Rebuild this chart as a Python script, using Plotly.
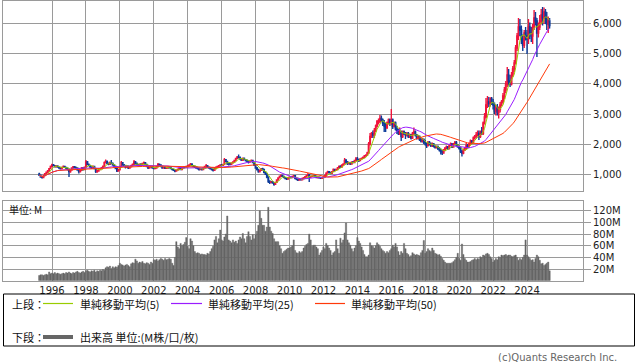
import pandas as pd
import plotly.graph_objects as go

W, H = 638, 362

# Monthly data, Apr 1995 .. May 2025
months = pd.date_range("1995-04-01", "2025-05-01", freq="MS")

opens = [
    1000, 960, 900, 880, 950, 1010, 1060, 1100, 1180,
    1250, 1300, 1280, 1240, 1270, 1230, 1200, 1180, 1220, 1250, 1220, 1190,
    1150, 1080, 1130, 1200, 1240, 1220, 1200, 1130, 1080, 1120, 1200, 1150,
    1230, 1400, 1320, 1280, 1230, 1200, 1250, 1180, 1080, 1100, 1150, 1170,
    1200, 1250, 1380, 1420, 1350, 1320, 1380, 1350, 1300, 1250, 1180, 1100,
    1150, 1250, 1380, 1300, 1280, 1220, 1260, 1200, 1250, 1280, 1320, 1400,
    1350, 1300, 1280, 1330, 1300, 1350, 1380, 1320, 1250, 1200, 1230, 1250,
    1200, 1180, 1200, 1250, 1320, 1300, 1250, 1200, 1220, 1190, 1200, 1230,
    1210, 1180, 1150, 1120, 1100, 1130, 1160, 1190, 1150, 1200, 1230, 1220,
    1250, 1270, 1300, 1330, 1280, 1250, 1230, 1200, 1180, 1150, 1170, 1150,
    1200, 1250, 1280, 1230, 1200, 1170, 1150, 1120, 1180, 1230, 1250, 1280,
    1300, 1290, 1320, 1480, 1420, 1350, 1340, 1330, 1370, 1400, 1450, 1520,
    1560, 1550, 1500, 1460, 1520, 1480, 1450, 1430, 1400, 1430, 1450, 1380,
    1300, 1200, 1150, 1080, 1120, 1180, 1150, 1050, 1000, 900, 760, 720,
    740, 700, 660, 720, 800, 870, 930, 950, 920, 880, 850, 830,
    870, 900, 880, 920, 940, 850, 820, 800, 820, 810, 850, 880,
    900, 950, 980, 900, 920, 930, 950, 930, 880, 890, 870, 860,
    880, 900, 950, 1030, 1080, 1050, 1020, 1080, 1150, 1120, 1150, 1200,
    1250, 1230, 1300, 1330, 1450, 1400, 1350, 1380, 1330, 1400, 1380, 1450,
    1500, 1480, 1450, 1500, 1520, 1550, 1600, 1620, 1700, 2000, 2250, 2350,
    2300, 2450, 2600, 2750, 2750, 2850, 2800, 2700, 2600, 2550, 2700, 2800,
    2700, 2800, 2600, 2700, 2500, 2450, 2350, 2400, 2250, 2400, 2350, 2300,
    2350, 2250, 2300, 2200, 2350, 2400, 2300, 2200, 2250, 2150, 2100, 2150,
    2050, 2000, 1950, 2050, 2000, 1950, 2000, 1920, 1880, 1900, 1850, 1800,
    1750, 1700, 1800, 1850, 1900, 1850, 1950, 2000, 1900, 2000, 2050, 1950,
    1900, 1850, 1750, 1700, 1800, 1850, 1950, 1900, 2000, 2100, 2050, 2200,
    2250, 2300, 2350, 2250, 2400, 2350, 2700, 2900, 3300, 3400, 3350, 3500,
    3400, 3300, 3100, 3200, 3050, 3150, 3300, 3400, 3600, 3800, 4000, 4300,
    4100, 4000, 4300, 4500, 4700, 5200, 5600, 5900, 5800, 5500, 5300, 5700,
    5600, 5500, 5900, 5700, 5600, 5900, 6200, 6100, 5700, 5900, 6100, 6300,
    6200, 6400, 6200, 6000, 6100,
]
highs = [
    1040, 980, 930, 970, 1030, 1080, 1130, 1200, 1280,
    1340, 1330, 1300, 1290, 1290, 1250, 1220, 1240, 1280, 1270, 1240, 1210,
    1170, 1150, 1220, 1270, 1260, 1240, 1210, 1150, 1140, 1230, 1220, 1250,
    1470, 1430, 1350, 1310, 1260, 1280, 1270, 1190, 1130, 1170, 1200, 1230,
    1280, 1420, 1480, 1450, 1380, 1420, 1470, 1380, 1320, 1270, 1200, 1170,
    1270, 1430, 1400, 1330, 1300, 1290, 1280, 1270, 1310, 1350, 1470, 1430,
    1380, 1330, 1350, 1360, 1370, 1420, 1400, 1340, 1270, 1250, 1270, 1260,
    1220, 1220, 1270, 1370, 1350, 1320, 1260, 1240, 1240, 1220, 1250, 1250,
    1230, 1200, 1170, 1140, 1150, 1180, 1220, 1210, 1220, 1260, 1250, 1270,
    1300, 1320, 1370, 1360, 1300, 1270, 1250, 1220, 1200, 1190, 1190, 1220,
    1270, 1330, 1300, 1250, 1220, 1190, 1170, 1200, 1250, 1270, 1300, 1320,
    1330, 1340, 1530, 1500, 1440, 1380, 1360, 1390, 1420, 1470, 1540, 1600,
    1650, 1580, 1520, 1550, 1550, 1500, 1480, 1450, 1450, 1480, 1470, 1400,
    1320, 1230, 1170, 1140, 1200, 1210, 1170, 1080, 1020, 920, 790, 770,
    760, 720, 740, 820, 890, 950, 980, 970, 940, 900, 870, 890,
    920, 920, 940, 970, 950, 870, 840, 840, 840, 870, 900, 930,
    970, 1030, 1000, 940, 950, 970, 970, 940, 910, 910, 890, 900,
    920, 970, 1060, 1110, 1100, 1070, 1100, 1180, 1170, 1170, 1230, 1280,
    1290, 1320, 1360, 1530, 1500, 1430, 1410, 1400, 1420, 1430, 1470, 1570,
    1570, 1510, 1520, 1550, 1580, 1630, 1660, 1740, 2070, 2370, 2400, 2450,
    2530, 2650, 2800, 2850, 2970, 2950, 2850, 2800, 2700, 2750, 2850, 2850,
    3170, 2850, 2750, 2750, 2600, 2500, 2550, 2450, 2450, 2450, 2400, 2400,
    2400, 2350, 2330, 2400, 2550, 2450, 2330, 2300, 2280, 2200, 2200, 2180,
    2130, 2050, 2100, 2100, 2050, 2050, 2030, 1960, 1950, 1950, 1900, 1850,
    1800, 1830, 1900, 1950, 1930, 1980, 2050, 2030, 2030, 2100, 2100, 2000,
    1950, 1900, 1800, 1850, 1900, 2030, 2000, 2050, 2150, 2130, 2250, 2300,
    2400, 2450, 2450, 2450, 2570, 2750, 3030, 3530, 3600, 3570, 3560, 3570,
    3500, 3380, 3300, 3330, 3250, 3400, 3470, 3700, 3900, 4100, 4570, 4500,
    4300, 4400, 4600, 4800, 5300, 5700, 6200, 6170, 5950, 5650, 5800, 5900,
    5800, 6170, 6050, 5900, 6000, 6470, 6400, 6200, 6050, 6300, 6500, 6570,
    6550, 6500, 6400, 6250, 6200,
]
lows = [
    940, 880, 850, 870, 930, 990, 1040, 1080, 1160,
    1230, 1260, 1220, 1220, 1210, 1180, 1150, 1160, 1200, 1200, 1170, 1120,
    900, 1040, 1110, 1180, 1200, 1170, 1110, 1020, 1050, 1100, 1120, 1130,
    1210, 1300, 1260, 1210, 1170, 1180, 1160, 1030, 1040, 1080, 1130, 1150,
    1180, 1230, 1360, 1330, 1290, 1300, 1330, 1280, 1230, 1160, 1070, 1080,
    1120, 1230, 1280, 1250, 1180, 1200, 1170, 1180, 1220, 1260, 1300, 1320,
    1280, 1250, 1260, 1280, 1280, 1330, 1300, 1230, 1170, 1180, 1210, 1180,
    1160, 1160, 1190, 1240, 1280, 1230, 1180, 1180, 1170, 1170, 1190, 1190,
    1160, 1130, 1100, 1060, 1080, 1110, 1140, 1130, 1130, 1180, 1200, 1200,
    1220, 1250, 1280, 1260, 1230, 1200, 1180, 1150, 1120, 1130, 1120, 1130,
    1180, 1230, 1210, 1180, 1150, 1120, 1080, 1100, 1160, 1210, 1230, 1260,
    1260, 1270, 1300, 1390, 1300, 1280, 1290, 1300, 1350, 1380, 1430, 1500,
    1520, 1480, 1430, 1440, 1460, 1420, 1400, 1350, 1380, 1410, 1360, 1270,
    1180, 1120, 1040, 1050, 1100, 1120, 1030, 970, 860, 700, 670, 690,
    680, 610, 640, 700, 780, 850, 900, 900, 860, 830, 800, 810,
    850, 860, 860, 900, 830, 790, 770, 780, 790, 790, 840, 860,
    890, 930, 730, 870, 900, 910, 910, 860, 850, 850, 840, 840,
    860, 880, 940, 1010, 1030, 990, 1000, 1060, 1100, 1100, 1130, 1180,
    1200, 1210, 1280, 1310, 1350, 1300, 1320, 1300, 1310, 1360, 1360, 1430,
    1450, 1400, 1430, 1480, 1500, 1530, 1580, 1600, 1680, 1950, 2200, 2200,
    2200, 2400, 2550, 2650, 2700, 2750, 2600, 2400, 2400, 2500, 2650, 2600,
    2630, 2500, 2550, 2450, 2330, 2300, 2300, 2100, 2200, 2300, 2170, 2250,
    2200, 2200, 2150, 2170, 2300, 2250, 2150, 2150, 2100, 2050, 2050, 2000,
    1950, 1870, 1920, 1950, 1900, 1900, 1880, 1850, 1850, 1800, 1750, 1650,
    1630, 1680, 1760, 1830, 1800, 1820, 1930, 1870, 1880, 1980, 1920, 1880,
    1820, 1700, 1580, 1660, 1770, 1820, 1850, 1880, 1980, 2000, 2030, 2150,
    2200, 2250, 2130, 2200, 2300, 2300, 2650, 2850, 3200, 3230, 3250, 3300,
    3150, 3000, 2950, 2950, 2850, 3050, 3250, 3350, 3500, 3700, 3900, 3950,
    3900, 3950, 4230, 4400, 4650, 5100, 5470, 5600, 5330, 5100, 5200, 5450,
    5000, 5330, 5500, 5400, 5330, 5800, 5950, 4900, 5550, 5800, 5980, 5950,
    6000, 6000, 5800, 5700, 5850,
]
closes = [
    960, 900, 880, 950, 1010, 1060, 1100, 1180, 1250,
    1300, 1280, 1240, 1270, 1230, 1200, 1180, 1220, 1250, 1220, 1190, 1150,
    1080, 1130, 1200, 1240, 1220, 1200, 1130, 1080, 1120, 1200, 1150, 1230,
    1400, 1320, 1280, 1230, 1200, 1250, 1180, 1080, 1100, 1150, 1170, 1200,
    1250, 1380, 1420, 1350, 1320, 1380, 1350, 1300, 1250, 1180, 1100, 1150,
    1250, 1380, 1300, 1280, 1220, 1260, 1200, 1250, 1280, 1320, 1400, 1350,
    1300, 1280, 1330, 1300, 1350, 1380, 1320, 1250, 1200, 1230, 1250, 1200,
    1180, 1200, 1250, 1320, 1300, 1250, 1200, 1220, 1190, 1200, 1230, 1210,
    1180, 1150, 1120, 1100, 1130, 1160, 1190, 1150, 1200, 1230, 1220, 1250,
    1270, 1300, 1330, 1280, 1250, 1230, 1200, 1180, 1150, 1170, 1150, 1200,
    1250, 1280, 1230, 1200, 1170, 1150, 1120, 1180, 1230, 1250, 1280, 1300,
    1290, 1320, 1480, 1420, 1350, 1340, 1330, 1370, 1400, 1450, 1520, 1560,
    1550, 1500, 1460, 1520, 1480, 1450, 1430, 1400, 1430, 1450, 1380, 1300,
    1200, 1150, 1080, 1120, 1180, 1150, 1050, 1000, 900, 760, 720, 740,
    700, 660, 720, 800, 870, 930, 950, 920, 880, 850, 830, 870,
    900, 880, 920, 940, 850, 820, 800, 820, 810, 850, 880, 900,
    950, 980, 900, 920, 930, 950, 930, 880, 890, 870, 860, 880,
    900, 950, 1030, 1080, 1050, 1020, 1080, 1150, 1120, 1150, 1200, 1250,
    1230, 1300, 1330, 1450, 1400, 1350, 1380, 1330, 1400, 1380, 1450, 1500,
    1480, 1450, 1500, 1520, 1550, 1600, 1620, 1700, 2000, 2250, 2350, 2300,
    2450, 2600, 2750, 2750, 2850, 2800, 2700, 2600, 2550, 2700, 2800, 2700,
    2800, 2600, 2700, 2500, 2450, 2350, 2400, 2250, 2400, 2350, 2300, 2350,
    2250, 2300, 2200, 2350, 2400, 2300, 2200, 2250, 2150, 2100, 2150, 2050,
    2000, 1950, 2050, 2000, 1950, 2000, 1920, 1880, 1900, 1850, 1800, 1750,
    1700, 1800, 1850, 1900, 1850, 1950, 2000, 1900, 2000, 2050, 1950, 1900,
    1850, 1750, 1700, 1800, 1850, 1950, 1900, 2000, 2100, 2050, 2200, 2250,
    2300, 2350, 2250, 2400, 2350, 2700, 2900, 3300, 3400, 3350, 3500, 3400,
    3300, 3100, 3200, 3050, 3150, 3300, 3400, 3600, 3800, 4000, 4300, 4100,
    4000, 4300, 4500, 4700, 5200, 5600, 5900, 5800, 5500, 5300, 5700, 5600,
    5500, 5900, 5700, 5600, 5900, 6200, 6100, 5700, 5900, 6100, 6300, 6200,
    6400, 6200, 6000, 6100, 5950,
]
volume_m = [
    9, 10, 10, 9, 10, 11, 10, 15, 12,
    13, 12, 14, 12, 13, 12, 11, 12, 13, 12, 14, 13,
    15, 13, 12, 14, 13, 15, 16, 14, 13, 15, 16, 14,
    17, 18, 16, 15, 17, 16, 18, 15, 17, 16, 18, 17,
    19, 18, 22, 24, 23, 25, 21, 24, 22, 24, 23, 26,
    30, 28, 27, 25, 27, 28, 26, 24, 29, 31, 30, 37,
    34, 30, 32, 31, 33, 30, 29, 31, 30, 28, 32, 30,
    36, 35, 37, 34, 36, 38, 37, 35, 38, 36, 37, 38,
    37, 30, 26, 40, 67, 58, 55, 64, 60, 62, 66, 74,
    59, 55, 72, 68, 60, 50, 47, 48, 47, 45, 46, 45,
    45, 44, 47, 46, 50, 55, 59, 70, 76, 65, 72, 87,
    70, 68, 75, 80, 111, 70, 68, 65, 70, 66, 68, 64,
    70, 75, 72, 81, 72, 65, 76, 84, 76, 70, 79, 72,
    79, 85, 95, 120, 107, 95, 95, 85, 92, 126, 92, 85,
    81, 72, 67, 67, 67, 60, 55, 47, 50, 52, 54, 56,
    56, 58, 60, 70, 52, 48, 47, 50, 48, 50, 56, 59,
    62, 64, 80, 70, 59, 61, 61, 58, 55, 44, 48, 52,
    58, 55, 64, 60, 56, 52, 44, 48, 50, 70, 55, 47,
    73, 65, 70, 82, 99, 70, 65, 61, 55, 50, 56, 60,
    74, 68, 64, 58, 52, 45, 41, 41, 44, 65, 60, 59,
    56, 60, 65, 62, 59, 55, 52, 50, 47, 50, 48, 52,
    55, 61, 58, 64, 58, 50, 44, 50, 47, 64, 55, 47,
    45, 41, 43, 48, 46, 44, 45, 44, 43, 48, 52, 69,
    47, 50, 55, 52, 50, 56, 52, 47, 46, 44, 45, 42,
    38, 35, 32, 30, 30, 30, 30, 31, 33, 36, 40, 47,
    38, 35, 63, 45, 38, 35, 32, 32, 33, 35, 36, 38,
    36, 38, 37, 41, 40, 44, 43, 46, 47, 45, 41, 38,
    32, 35, 38, 36, 41, 40, 44, 43, 44, 45, 43, 44,
    44, 42, 41, 43, 44, 40, 35, 38, 36, 40, 44, 70,
    44, 41, 38, 35, 36, 32, 38, 44, 41, 35, 29, 30,
    26, 28, 30, 32, 17,
]

price_ticks = [1000, 2000, 3000, 4000, 5000, 6000]
price_tick_text = ["1,000", "2,000", "3,000", "4,000", "5,000", "6,000"]
vol_ticks = [20, 40, 60, 80, 100, 120]
vol_tick_text = ["20M", "40M", "60M", "80M", "100M", "120M"]
year_ticks = [f"{y}-01-01" for y in range(1996, 2025, 2)]
year_text = [str(y) for y in range(1996, 2025, 2)]

ma_labels = ["単純移動平均(5)", "単純移動平均(25)", "単純移動平均(50)"]
ma_windows = [5, 25, 50]
ma_colors = ["#99cc00", "#9a1cff", "#ff3a0a"]

close_s = pd.Series(closes, index=months)

fig = go.Figure()
fig.add_trace(go.Candlestick(
    x=months, open=opens, high=highs, low=lows, close=closes,
    increasing=dict(line=dict(color="#f0143c", width=1.4), fillcolor="#f0143c"),
    decreasing=dict(line=dict(color="#0d3b9a", width=1.4), fillcolor="#0d3b9a"),
    whiskerwidth=0, showlegend=False, xaxis="x", yaxis="y", hoverinfo="skip",
))
for win, col in zip(ma_windows, ma_colors):
    ma = close_s.rolling(win, min_periods=1).mean()
    fig.add_trace(go.Scatter(x=months, y=ma.values, mode="lines",
                             line=dict(color=col, width=1), showlegend=False,
                             xaxis="x", yaxis="y", hoverinfo="skip"))
fig.add_trace(go.Bar(x=months, y=volume_m,
                     marker=dict(color="#666666", line=dict(color="#666666", width=0.4)),
                     showlegend=False, xaxis="x2", yaxis="y2", hoverinfo="skip"))


def px(x):
    return x / W


def py(y):
    return 1 - y / H


xdom = [px(3), px(583)]
xrange_ = ["1993-02-10", "2027-04-20"]
grid = "#9a9a9a"
tickfont = dict(family="DejaVu Sans", size=10, color="#222222")

common_x = dict(domain=xdom, type="date", range=xrange_, tickmode="array", tickvals=year_ticks,
                showgrid=True, gridcolor=grid, gridwidth=1, zeroline=False,
                showline=True, linecolor=grid, linewidth=1, mirror=True, ticks="",
                fixedrange=True)
common_y = dict(side="right", showgrid=True, gridcolor=grid, gridwidth=1, zeroline=False,
                showline=True, linecolor=grid, linewidth=1, mirror=True,
                ticks="outside", ticklen=7, tickcolor=grid, tickfont=tickfont, tickmode="array",
                fixedrange=True)

fig.update_layout(
    width=W, height=H, autosize=False,
    margin=dict(l=0, r=0, t=0, b=0),
    paper_bgcolor="white", plot_bgcolor="white",
    bargap=0, showlegend=False, hovermode=False,
    xaxis=dict(common_x, anchor="y", showticklabels=False, rangeslider=dict(visible=False)),
    yaxis=dict(common_y, domain=[py(190.5), py(0.5)], range=[450, 6783],
               tickvals=price_ticks, ticktext=price_tick_text),
    xaxis2=dict(common_x, anchor="y2", showticklabels=True, ticktext=year_text,
                tickfont=tickfont, rangeslider=dict(visible=False)),
    yaxis2=dict(common_y, domain=[py(280.7), py(201)], range=[0, 136.7],
                tickvals=vol_ticks, ticktext=vol_tick_text),
)

cjk = "Noto Sans CJK JP"
shapes = []
annotations = []

# legend box
shapes.append(dict(type="rect", xref="paper", yref="paper", x0=px(3.5), x1=px(634.5),
                   y0=py(346), y1=py(294), line=dict(color="black", width=1)))


def text(x, y, s, size=11, color="#111111", family=cjk, anchor="left"):
    annotations.append(dict(xref="paper", yref="paper", x=px(x), y=py(y), text=s,
                            showarrow=False, xanchor=anchor, yanchor="middle",
                            font=dict(family=family, size=size, color=color)))


def sample(x0, x1, y, color, width):
    shapes.append(dict(type="line", xref="paper", yref="paper", x0=px(x0), x1=px(x1),
                       y0=py(y), y1=py(y), line=dict(color=color, width=width)))


text(10, 303.5, "上段：")
text(10, 337, "下段：")
leg_lines = [(43, 73, 78), (171, 202, 206), (315, 345, 349)]
for (lx0, lx1, tx), lab, col in zip(leg_lines, ma_labels, ma_colors):
    sample(lx0, lx1, 303.5, col, 1.2)
    text(tx, 303.5, lab)
sample(43, 73, 337, "#666666", 4)
text(78, 337, "出来高 単位:(M株/口/枚)")

text(7, 209.5, "単位: M", size=10)
text(619, 357.5, "(c)Quants Research Inc.", size=10, color="#666666",
     family="DejaVu Sans", anchor="right")

fig.update_layout(shapes=shapes, annotations=annotations)
fig.write_html("out.html", config={"displayModeBar": False, "staticPlot": True},
               post_script="document.body.style.margin='0';")
